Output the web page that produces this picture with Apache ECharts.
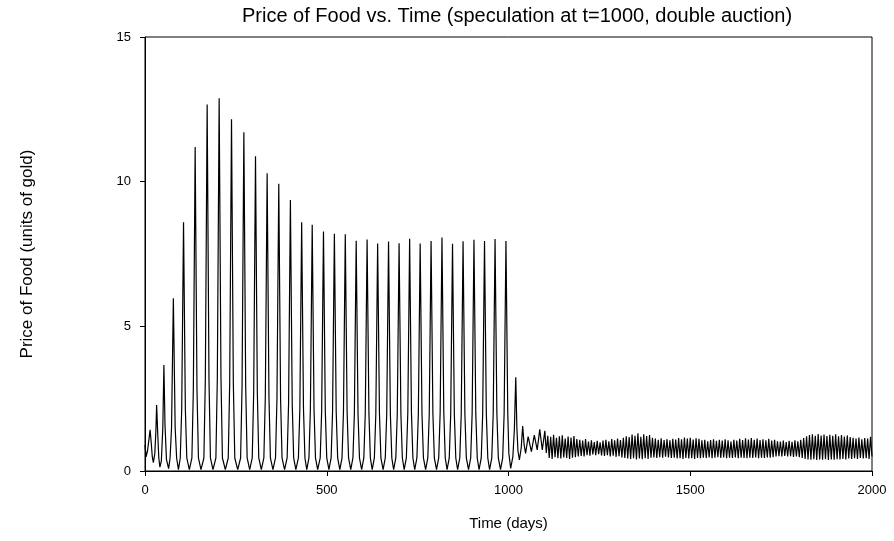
<!DOCTYPE html>
<html>
<head>
<meta charset="utf-8">
<script src="https://cdn.jsdelivr.net/npm/echarts@6/dist/echarts.min.js"></script>
<style>html,body{margin:0;padding:0;background:#fff}#c{width:894px;height:541px}</style>
</head>
<body>
<div id="c"></div>
<script>
const titleText = 'Price of Food vs. Time (speculation at t=1000, double auction)';
const xName = 'Time (days)';
const yName = 'Price of Food (units of gold)';
const xTicks = [0, 500, 1000, 1500, 2000];
const yTicks = [0, 5, 10, 15];

// [day, price] — before and just after speculation (t < 1100)
const boomPhase = [
[0,0.9],[3,0.49],[7,0.7],[11,1.1],[14,1.42],[17,1.0],[20,0.5],[23,0.29],[27,0.6],[30,1.4],[32,2.28],[35,1.3],[38,0.45],[41,0.13],[45,0.35],[49,1.5],[52,3.66],[55,1.6],[59,0.4],[65,0.08],
[69,0.45],[73,1.49],[78,5.97],[83,1.49],[87,0.45],[92,0.05],
[97,0.45],[101,2.15],[106,8.6],[111,2.15],[115,0.45],[122,0.05],
[129,0.45],[133,2.8],[138,11.2],[143,2.8],[147,0.45],[154,0.05],
[162,0.45],[166,3.17],[171,12.67],[176,3.17],[180,0.45],[187,0.05],
[195,0.45],[199,3.22],[204,12.88],[209,3.22],[213,0.45],[221,0.05],
[229,0.45],[233,3.04],[238,12.16],[243,3.04],[247,0.45],[255,0.05],
[263,0.45],[267,2.93],[272,11.71],[277,2.93],[281,0.45],[288,0.05],
[295,0.45],[299,2.72],[304,10.88],[309,2.72],[313,0.45],[320,0.05],
[327,0.45],[331,2.57],[336,10.29],[341,2.57],[345,0.45],[352,0.05],
[359,0.45],[363,2.48],[368,9.93],[373,2.48],[377,0.45],[384,0.05],
[391,0.45],[395,2.34],[400,9.37],[405,2.34],[409,0.45],[415,0.05],
[422,0.45],[426,2.15],[431,8.6],[436,2.15],[440,0.45],[445,0.05],
[451,0.45],[455,2.13],[460,8.51],[465,2.13],[469,0.45],[475,0.05],
[482,0.45],[486,2.07],[491,8.28],[496,2.07],[500,0.45],[506,0.05],
[512,0.45],[516,2.05],[521,8.2],[526,2.05],[530,0.45],[536,0.05],
[542,0.45],[546,2.05],[551,8.18],[556,2.05],[560,0.45],[566,0.05],
[572,0.45],[576,1.99],[581,7.96],[586,1.99],[590,0.45],[596,0.05],
[602,0.45],[606,2.0],[611,8.0],[616,2.0],[620,0.45],[625,0.05],
[631,0.45],[635,1.97],[640,7.86],[645,1.97],[649,0.45],[655,0.05],
[661,0.45],[665,1.98],[670,7.93],[675,1.98],[679,0.45],[684,0.05],
[690,0.45],[694,1.97],[699,7.87],[704,1.97],[708,0.45],[713,0.05],
[719,0.45],[723,2.01],[728,8.03],[733,2.01],[737,0.45],[742,0.05],
[748,0.45],[752,1.97],[757,7.86],[762,1.97],[766,0.45],[772,0.05],
[778,0.45],[782,1.99],[787,7.95],[792,1.99],[796,0.45],[802,0.05],
[808,0.45],[812,2.02],[817,8.07],[822,2.02],[826,0.45],[831,0.05],
[837,0.45],[841,1.96],[846,7.85],[851,1.96],[855,0.45],[860,0.05],
[866,0.45],[870,1.99],[875,7.94],[880,1.99],[884,0.45],[890,0.05],
[896,0.45],[900,2.0],[905,7.99],[910,2.0],[914,0.45],[919,0.05],
[925,0.45],[929,1.99],[934,7.95],[939,1.99],[943,0.45],[948,0.05],
[954,0.45],[958,2.01],[963,8.02],[968,2.01],[972,0.45],[978,0.05],
[984,0.45],[988,1.99],[993,7.95],[998,1.99],[1001,0.6],[1006,0.09],
[1012,0.5],[1016,1.4],[1020,3.24],[1023,1.5],[1026,0.7],[1030,0.38],[1035,0.8],[1039,1.55],[1043,0.9],[1047,0.61],
[1054,1.19],[1063,0.67],[1071,1.24],[1079,0.73],[1086,1.44],[1093,0.73],[1100,1.39]
];

// [day, price] — fast small oscillation after the crash
const calmPhase = [
[1104,0.62],[1108,1.22],[1112,0.45],[1116,1.18],[1120,0.42],[1124,1.25],[1128,0.48],[1132,1.15],[1136,0.44],[1140,1.2],
[1144,0.43],[1148,1.23],[1152,0.47],[1156,1.12],[1160,0.45],[1164,1.19],[1168,0.42],[1172,1.16],[1176,0.46],[1180,1.21],
[1184,0.48],[1188,1.1],[1192,0.5],[1196,1.08],[1200,0.52],[1204,1.05],[1208,0.5],[1212,1.1],[1216,0.55],[1220,1.02],
[1224,0.53],[1228,1.06],[1232,0.57],[1236,1.0],[1240,0.55],[1244,1.04],[1248,0.58],[1252,0.99],[1256,0.54],[1260,1.05],
[1264,0.52],[1268,1.08],[1272,0.55],[1276,1.03],[1280,0.5],[1284,1.1],[1288,0.53],[1292,1.06],[1296,0.49],[1300,1.12],
[1304,0.51],[1308,1.07],[1312,0.47],[1316,1.15],[1320,0.45],[1324,1.2],[1328,0.43],[1332,1.17],[1336,0.42],[1340,1.26],
[1344,0.44],[1348,1.22],[1352,0.4],[1356,1.3],[1360,0.43],[1364,1.18],[1368,0.41],[1372,1.27],[1376,0.44],[1380,1.21],
[1384,0.42],[1388,1.24],[1392,0.46],[1396,1.15],[1400,0.47],[1404,1.12],[1408,0.45],[1412,1.08],[1416,0.48],[1420,1.13],
[1424,0.46],[1428,1.07],[1432,0.49],[1436,1.1],[1440,0.47],[1444,1.06],[1448,0.45],[1452,1.11],[1456,0.46],[1460,1.09],
[1464,0.43],[1468,1.14],[1472,0.44],[1476,1.1],[1480,0.42],[1484,1.16],[1488,0.45],[1492,1.12],[1496,0.43],[1500,1.15],
[1504,0.44],[1508,1.09],[1512,0.42],[1516,1.13],[1520,0.45],[1524,1.11],[1528,0.44],[1532,1.06],[1536,0.46],[1540,1.08],
[1544,0.45],[1548,1.03],[1552,0.47],[1556,1.07],[1560,0.44],[1564,1.1],[1568,0.46],[1572,1.04],[1576,0.48],[1580,1.08],
[1584,0.45],[1588,1.05],[1592,0.47],[1596,1.1],[1600,0.44],[1604,1.06],[1608,0.46],[1612,1.02],[1616,0.45],[1620,1.08],
[1624,0.47],[1628,1.05],[1632,0.44],[1636,1.11],[1640,0.46],[1644,1.07],[1648,0.45],[1652,1.13],[1656,0.44],[1660,1.09],
[1664,0.46],[1668,1.14],[1672,0.45],[1676,1.08],[1680,0.47],[1684,1.12],[1688,0.44],[1692,1.07],[1696,0.46],[1700,1.1],
[1704,0.45],[1708,1.06],[1712,0.47],[1716,1.11],[1720,0.46],[1724,1.05],[1728,0.48],[1732,1.08],[1736,0.5],[1740,1.03],
[1744,0.51],[1748,1.02],[1752,0.5],[1756,1.05],[1760,0.52],[1764,1.0],[1768,0.5],[1772,1.04],[1776,0.51],[1780,1.01],
[1784,0.49],[1788,1.06],[1792,0.5],[1796,1.03],[1800,0.48],[1804,1.08],[1808,0.45],[1812,1.14],[1816,0.42],[1820,1.2],
[1824,0.4],[1828,1.24],[1832,0.39],[1836,1.27],[1840,0.41],[1844,1.22],[1848,0.38],[1852,1.28],[1856,0.4],[1860,1.23],
[1864,0.39],[1868,1.26],[1872,0.41],[1876,1.21],[1880,0.38],[1884,1.25],[1888,0.4],[1892,1.22],[1896,0.39],[1900,1.27],
[1904,0.41],[1908,1.2],[1912,0.4],[1916,1.24],[1920,0.42],[1924,1.19],[1928,0.4],[1932,1.23],[1936,0.43],[1940,1.17],
[1944,0.42],[1948,1.15],[1952,0.44],[1956,1.12],[1960,0.42],[1964,1.16],[1968,0.45],[1972,1.1],[1976,0.43],[1980,1.14],
[1984,0.44],[1988,1.12],[1992,0.42],[1996,1.18],[2000,0.5]
];

const FONT = '"Liberation Sans", Arial, sans-serif';
const chart = echarts.init(document.getElementById('c'), null, {renderer: 'canvas'});
chart.setOption({
  animation: false,
  backgroundColor: '#fff',
  title: {
    text: titleText,
    left: 512, top: 1, textAlign: 'center',
    textStyle: {fontFamily: FONT, fontSize: 20, fontWeight: 'normal', color: '#000'}
  },
  grid: {left: 145, right: 22, top: 37, bottom: 70, show: true, borderColor: '#000', borderWidth: 1, backgroundColor: 'transparent'},
  xAxis: {
    type: 'value', min: xTicks[0], max: xTicks[xTicks.length - 1], interval: 500,
    name: xName, nameLocation: 'middle', nameGap: 45,
    nameTextStyle: {fontFamily: FONT, fontSize: 15, color: '#000'},
    axisLine: {show: true, lineStyle: {color: '#000', width: 1}},
    axisTick: {show: true, inside: false, length: 5, lineStyle: {color: '#000'}},
    axisLabel: {fontFamily: FONT, fontSize: 13, color: '#000', margin: 13, formatter: v => String(v)},
    splitLine: {show: false}
  },
  yAxis: {
    type: 'value', min: yTicks[0], max: yTicks[yTicks.length - 1], interval: 5,
    name: yName, nameLocation: 'middle', nameGap: 109, nameRotate: 90,
    nameTextStyle: {fontFamily: FONT, fontSize: 17, color: '#000'},
    axisLine: {show: true, lineStyle: {color: '#000', width: 1}},
    axisTick: {show: true, inside: false, length: 5, lineStyle: {color: '#000'}},
    axisLabel: {fontFamily: FONT, fontSize: 13, color: '#000', margin: 14, formatter: v => String(v)},
    splitLine: {show: false}
  },
  series: [{
    type: 'line',
    data: boomPhase.concat(calmPhase),
    showSymbol: false,
    symbol: 'none',
    lineStyle: {color: '#000', width: 1.2},
    z: 3
  }]
});
</script>
</body>
</html>
